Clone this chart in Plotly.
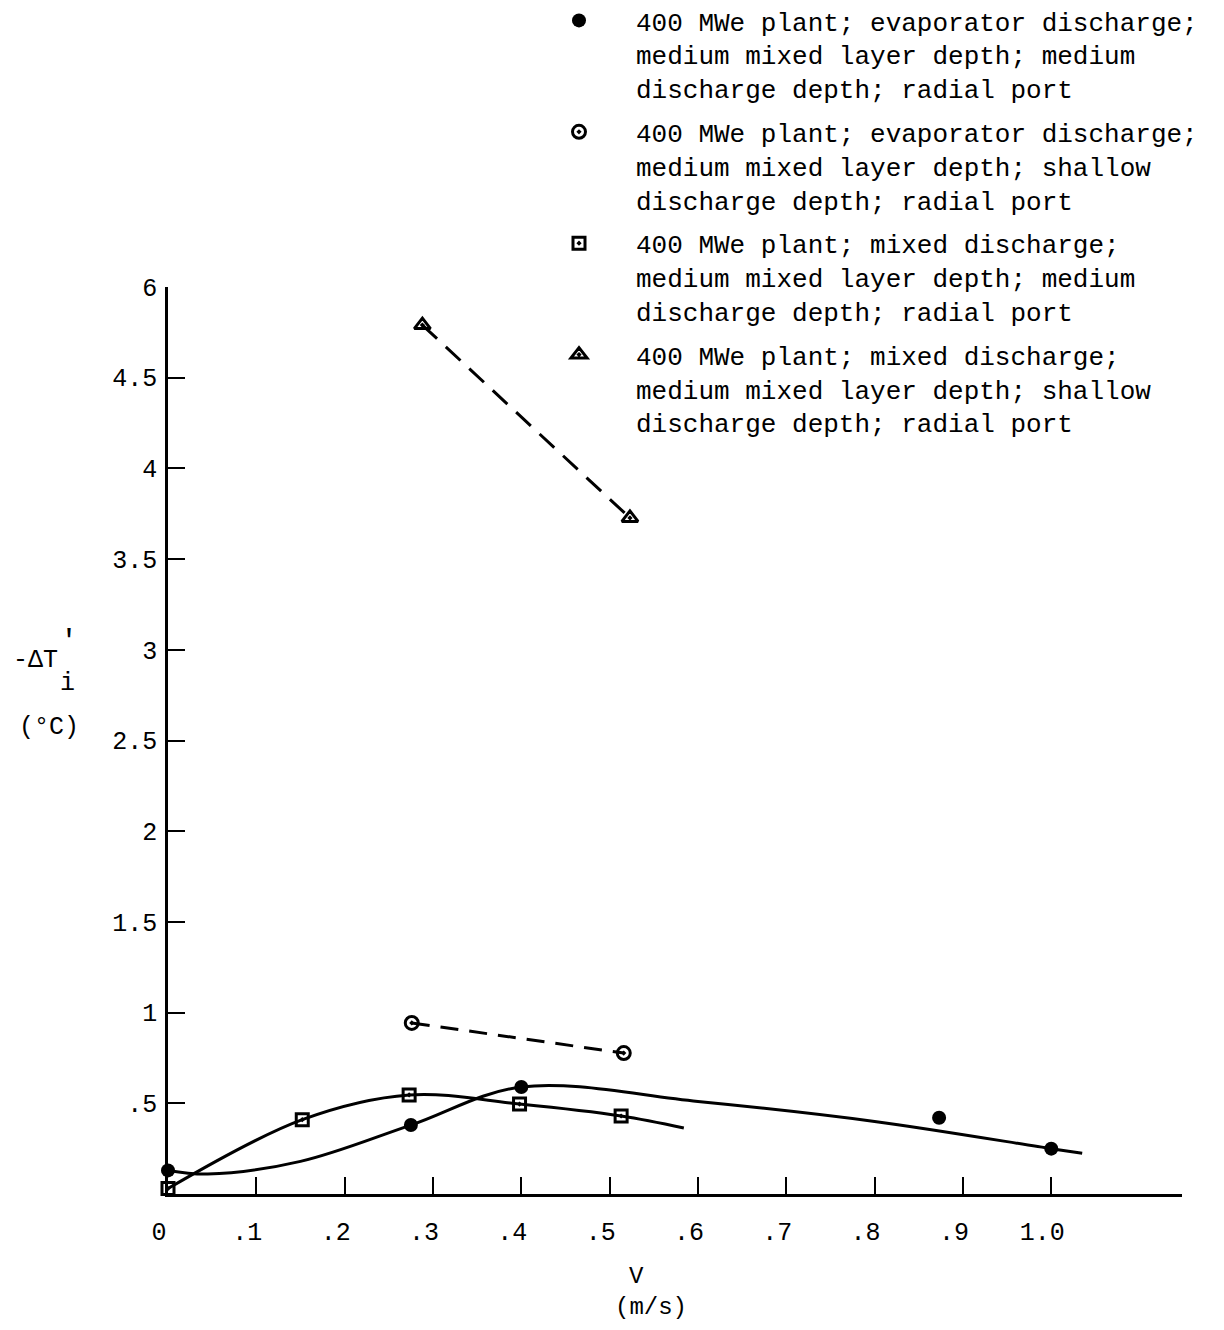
import plotly.graph_objects as go

# ---- series values: V (m/s) against -dT'_i (deg C) ----
# evaporator discharge, medium discharge depth (filled circles)
evap_med_v = [0.0, 0.275, 0.40, 0.873, 1.0]
evap_med_dt = [0.13, 0.38, 0.59, 0.42, 0.25]
# hand-fitted curve drawn through that series
evap_med_fit_v = [0.0, 0.045, 0.15, 0.275, 0.40, 0.60, 0.80, 1.0, 1.035]
evap_med_fit_dt = [0.13, 0.11, 0.18, 0.38, 0.59, 0.51, 0.40, 0.25, 0.225]

# evaporator discharge, shallow discharge depth (dotted circles)
evap_sh_v = [0.276, 0.516]
evap_sh_dt = [0.943, 0.777]

# mixed discharge, medium discharge depth (dotted squares)
mix_med_v = [0.0, 0.152, 0.273, 0.398, 0.513]
mix_med_dt = [0.03, 0.41, 0.546, 0.496, 0.43]
mix_med_fit_v = [0.0, 0.152, 0.273, 0.398, 0.513, 0.584]
mix_med_fit_dt = [0.03, 0.41, 0.546, 0.496, 0.43, 0.364]

# mixed discharge, shallow discharge depth (dotted triangles)
mix_sh_v = [0.288, 0.523]
mix_sh_dt = [4.79, 3.727]

# axis ticks
x_tickvals = [0, 0.1, 0.2, 0.3, 0.4, 0.5, 0.6, 0.7, 0.8, 0.9, 1.0]
x_ticktext = ["0", ".1", ".2", ".3", ".4", ".5", ".6", ".7", ".8", ".9", "1.0"]
y_tickvals = [0.5, 1, 1.5, 2, 2.5, 3, 3.5, 4, 4.5, 5]
y_ticktext = [".5", "1", "1.5", "2", "2.5", "3", "3.5", "4", "4.5", "6"]

legend_names = [
    "400 MWe plant; evaporator discharge;<br>medium mixed layer depth; medium<br>discharge depth; radial port",
    "400 MWe plant; evaporator discharge;<br>medium mixed layer depth; shallow<br>discharge depth; radial port",
    "400 MWe plant; mixed discharge;<br>medium mixed layer depth; medium<br>discharge depth; radial port",
    "400 MWe plant; mixed discharge;<br>medium mixed layer depth; shallow<br>discharge depth; radial port",
]

FONT = "Liberation Mono, DejaVu Sans Mono, monospace"
INK = "black"
W, H = 1224, 1330
ML, MR, MT, MB = 168, 42, 287, 136
PW, PH = W - ML - MR, H - MT - MB


def px(x, y):
    """pixel position -> paper coordinates"""
    return (x - ML) / PW, (H - MB - y) / PH


fig = go.Figure()

# fitted curves and connecting dashed lines
fig.add_trace(go.Scatter(x=evap_med_fit_v, y=evap_med_fit_dt, mode="lines",
                         line=dict(color=INK, width=3, shape="spline", smoothing=1.0),
                         showlegend=False, hoverinfo="skip", cliponaxis=False))
fig.add_trace(go.Scatter(x=mix_med_fit_v, y=mix_med_fit_dt, mode="lines",
                         line=dict(color=INK, width=3, shape="spline", smoothing=1.0),
                         showlegend=False, hoverinfo="skip", cliponaxis=False))
fig.add_trace(go.Scatter(x=evap_sh_v, y=evap_sh_dt, mode="lines",
                         line=dict(color=INK, width=3, dash="18px,11px"),
                         showlegend=False, hoverinfo="skip"))
fig.add_trace(go.Scatter(x=mix_sh_v, y=mix_sh_dt, mode="lines",
                         line=dict(color=INK, width=3, dash="20px,12px"),
                         showlegend=False, hoverinfo="skip"))

# data points
fig.add_trace(go.Scatter(x=evap_med_v, y=evap_med_dt, mode="markers", name=legend_names[0],
                         legendgroup="a",
                         marker=dict(symbol="circle", size=14, color=INK),
                         cliponaxis=False))
fig.add_trace(go.Scatter(x=evap_sh_v, y=evap_sh_dt, mode="markers", name=legend_names[1],
                         legendgroup="b",
                         marker=dict(symbol="circle-open-dot", size=13, color=INK,
                                     line=dict(color=INK, width=3)),
                         cliponaxis=False))
fig.add_trace(go.Scatter(x=mix_med_v, y=mix_med_dt, mode="markers", name=legend_names[2],
                         legendgroup="c",
                         marker=dict(symbol="square-open-dot", size=12, color=INK,
                                     line=dict(color=INK, width=3)),
                         cliponaxis=False))
fig.add_trace(go.Scatter(x=mix_sh_v, y=mix_sh_dt, mode="markers", name=legend_names[3],
                         legendgroup="d",
                         marker=dict(symbol="triangle-up-open-dot", size=14, color=INK,
                                     line=dict(color=INK, width=3)),
                         cliponaxis=False))

# axis titles
annotations = []
for text, (x, y), size in [
    ("-ΔT", (35, 660), 25),
    ("i", (67, 683), 25),
    ("′", (69, 642), 30),
    ("(°C)", (49, 727), 25),
    ("V", (636, 1276), 24),
    ("(m/s)", (651, 1307), 24),
]:
    ax, ay = px(x, y)
    annotations.append(dict(x=ax, y=ay, xref="paper", yref="paper", text=text,
                            showarrow=False, xanchor="center", yanchor="middle",
                            font=dict(family=FONT, size=size, color=INK)))

lx, ly = px(522, -3)

fig.update_layout(
    width=W, height=H,
    margin=dict(l=ML, r=MR, t=MT, b=MB, pad=0, autoexpand=False),
    paper_bgcolor="white", plot_bgcolor="white",
    font=dict(family=FONT, size=25, color=INK),
    showlegend=True,
    legend=dict(x=lx, y=ly, xanchor="left", yanchor="top",
                font=dict(family=FONT, size=26, color=INK),
                itemwidth=104, valign="top", tracegroupgap=7,
                bgcolor="rgba(0,0,0,0)", borderwidth=0, traceorder="grouped"),
    annotations=annotations,
    xaxis=dict(range=[0, 1.148], showgrid=False, zeroline=False,
               showline=True, linecolor=INK, linewidth=2.5,
               ticks="inside", ticklen=17, tickwidth=2, tickcolor=INK,
               tickvals=x_tickvals, ticktext=x_ticktext,
               ticklabelshift=-9, ticklabelstandoff=13,
               tickfont=dict(family=FONT, size=25, color=INK)),
    yaxis=dict(range=[0, 5], showgrid=False, zeroline=False,
               showline=True, linecolor=INK, linewidth=2.5,
               ticks="inside", ticklen=17, tickwidth=2, tickcolor=INK,
               tickvals=y_tickvals, ticktext=y_ticktext,
               ticklabelstandoff=3,
               tickfont=dict(family=FONT, size=25, color=INK)),
)

fig.write_html("out.html")
